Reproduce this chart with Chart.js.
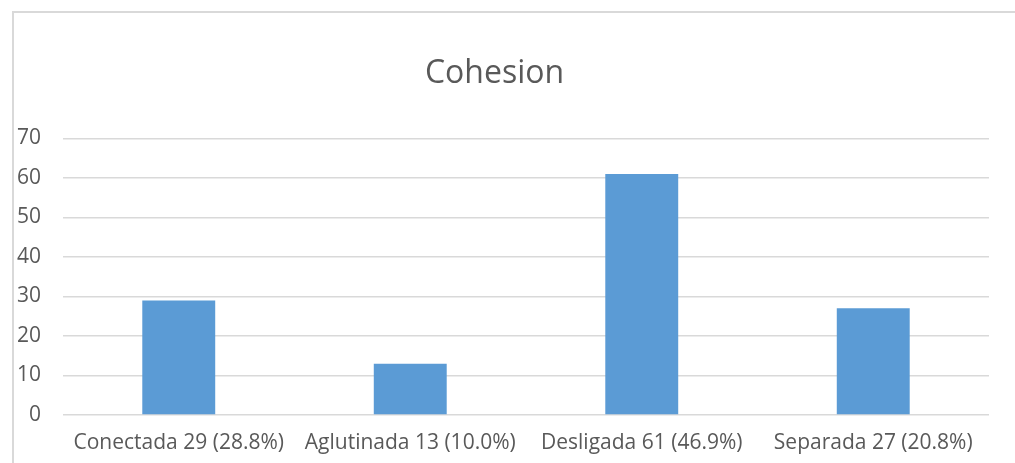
<!DOCTYPE html>
<html>
<head>
<meta charset="utf-8">
<script src="https://cdn.jsdelivr.net/npm/chart.js@4.4.1/dist/chart.umd.min.js"></script>
<style>
  html, body { margin: 0; padding: 0; background: #ffffff; }
  #wrap { width: 1015px; height: 463px; position: relative; }
</style>
</head>
<body>
<div id="wrap"><canvas id="cohesionChart"></canvas></div>
<script>
// Chart data
const categories = ['Conectada 29 (28.8%)', 'Aglutinada 13 (10.0%)', 'Desligada 61 (46.9%)', 'Separada 27 (20.8%)'];
const counts = [29, 13, 61, 27];
const yTicks = [0, 10, 20, 30, 40, 50, 60, 70];

const textColor = '#595959';
const gridColor = '#d9d9d9';
const barColor = '#5b9bd5';
const fontFamily = '"Open Sans", Lato, sans-serif';

// Light frame around the chart (left and top edges only are visible)
const framePlugin = {
    id: 'frame',
    beforeDraw: function (chart) {
        const ctx = chart.ctx;
        ctx.save();
        ctx.strokeStyle = gridColor;
        ctx.lineWidth = 2;
        ctx.beginPath();
        ctx.moveTo(13, chart.height);
        ctx.lineTo(13, 12);
        ctx.lineTo(chart.width, 12);
        ctx.stroke();
        ctx.restore();
    }
};

const ctx = document.getElementById('cohesionChart').getContext('2d');
new Chart(ctx, {
    type: 'bar',
    data: {
        labels: categories,
        datasets: [{
            label: 'Cohesion',
            data: counts,
            backgroundColor: barColor,
            borderWidth: 0,
            categoryPercentage: 1,
            barPercentage: 0.315
        }]
    },
    options: {
        responsive: true,
        maintainAspectRatio: false,
        animation: false,
        layout: {
            padding: { left: 0, right: 26, top: 0, bottom: 0 }
        },
        scales: {
            x: {
                grid: { display: false, drawTicks: false },
                border: { display: false },
                ticks: {
                    color: textColor,
                    font: { family: fontFamily, size: 21 },
                    padding: 15,
                    maxRotation: 0,
                    autoSkip: false
                },
                afterFit: function (scale) { scale.height = 48; }
            },
            y: {
                min: 0,
                max: 70,
                afterBuildTicks: function (scale) {
                    scale.ticks = yTicks.map(v => ({ value: v }));
                },
                grid: { color: gridColor, lineWidth: 1.5, drawTicks: false },
                border: { display: false },
                ticks: {
                    color: textColor,
                    font: { family: fontFamily, size: 21 },
                    padding: 22
                },
                afterFit: function (scale) { scale.width = 63; }
            }
        },
        plugins: {
            legend: { display: false },
            tooltip: { enabled: false },
            title: {
                display: true,
                text: 'Cohesion',
                color: textColor,
                font: { family: fontFamily, size: 32, weight: 'normal' },
                padding: { top: 55, bottom: 45 }
            }
        }
    },
    plugins: [framePlugin]
});
</script>
</body>
</html>
